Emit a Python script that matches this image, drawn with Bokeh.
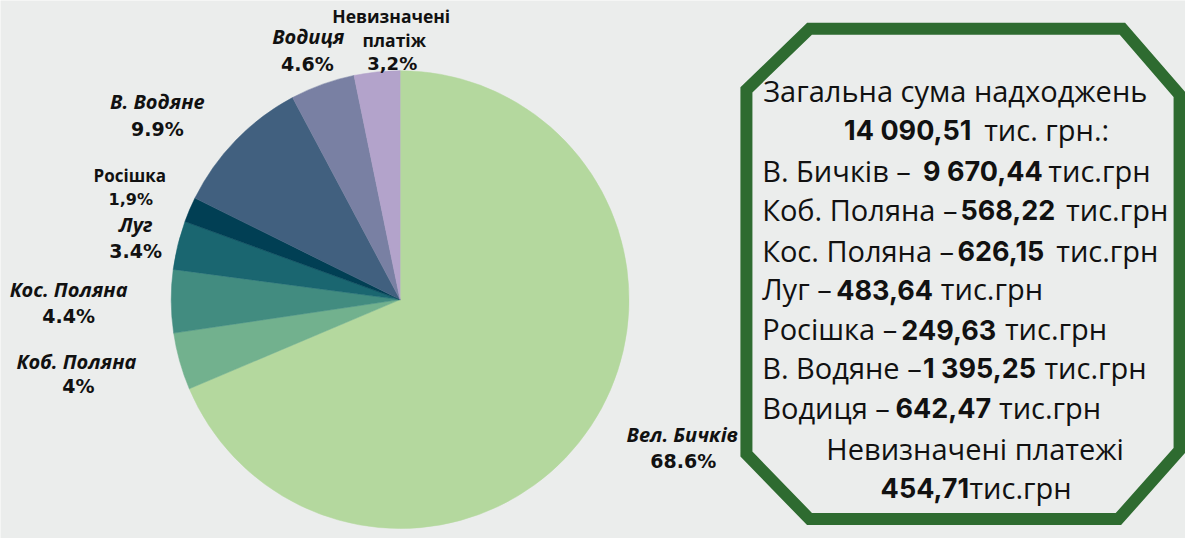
import math
from bokeh.plotting import figure
from bokeh.models import Range1d, ColumnDataSource
from bokeh.core.properties import value
from bokeh.embed import file_html
from bokeh.resources import INLINE

# ---------------- data ----------------
categories = ["Вел. Бичків", "Коб. Поляна", "Кос. Поляна", "Луг", "Росішка",
              "В. Водяне", "Водиця", "Невизначені платіж"]
values = [9670.44, 568.22, 626.15, 483.64, 249.63, 1395.25, 642.47, 454.71]
pct_labels = ["68.6%", "4%", "4.4%", "3.4%", "1,9%", "9.9%", "4.6%", "3,2%"]
colors = ["#b4d89e", "#72b18e", "#428c80", "#1a6670", "#013f54",
          "#41607f", "#7980a3", "#b3a3cb"]

total_text = "14 090,51"
box_names = ["В. Бичків –", "Коб. Поляна –", "Кос. Поляна –", "Луг –",
             "Росішка –", "В. Водяне –", "Водиця –"]
box_values = ["9 670,44", "568,22", "626,15", "483,64", "249,63", "1 395,25", "642,47"]
undefined_title = "Невизначені платежі"
undefined_value = "454,71"

# ---------------- layout helpers ----------------
W, H = 1185, 538
RW, RH = 1201, 554
BG = "#ebedec"
def Y(y):  # reference pixel row -> data y
    return RH - y

p = figure(width=W, height=H, output_backend="svg", toolbar_location=None,
           x_range=Range1d(0, RW), y_range=Range1d(0, RH),
           x_axis_location=None, y_axis_location=None, min_border=0)
p.grid.visible = False
p.outline_line_color = None
p.background_fill_color = BG
p.border_fill_color = BG

# ---------------- pie (clockwise from top) ----------------
tot = sum(values)
cum = 0.0
starts, ends = [], []
for v in values:
    a0 = math.pi / 2 - 2 * math.pi * (cum + v) / tot
    a1 = math.pi / 2 - 2 * math.pi * cum / tot
    starts.append(a0)
    ends.append(a1)
    cum += v
src = ColumnDataSource(dict(cat=categories, val=values, start=starts, end=ends, color=colors))
p.wedge(x=405, y=Y(308), radius=232, start_angle="start", end_angle="end",
        direction="anticlock", fill_color="color", line_color="color", line_width=0.5,
        source=src)

# ---------------- pie labels ----------------
TC = "#111111"
LF = value("Open Sans")
PF = value("DejaVu Sans")
# name_x, name_y, italic, size, pct_x, pct_y
lab = {
    "Вел. Бичків": (691, 447, True, 20, 692, 474),
    "Коб. Поляна": (77, 372, True, 20, 79, 397),
    "Кос. Поляна": (69, 298, True, 20, 69, 325),
    "Луг": (137, 231, True, 20, 137, 258),
    "Росішка": (131, 180, False, 17, 132, 205),
    "В. Водяне": (159, 104, True, 20, 159, 132),
    "Водиця": (312, 37, True, 20, 311, 65),
}
for cat, pct in zip(categories, pct_labels):
    if cat == "Невизначені платіж":
        p.text(x=[396, 399], y=[Y(16), Y(41)], text=["Невизначені", "платіж"],
               text_font=LF, text_font_size="17.5px", text_font_style="bold",
               text_align="center", text_baseline="middle", text_color=TC)
        p.text(x=[397], y=[Y(65)], text=[pct], text_font=PF,
               text_font_size="18px", text_font_style="bold", text_align="center",
               text_baseline="middle", text_color=TC)
        continue
    nx, ny, it, sz, px, py = lab[cat]
    p.text(x=[nx], y=[Y(ny)], text=[cat], text_font=LF,
           text_font_size=f"{sz}px", text_font_style="bold italic" if it else "bold",
           text_align="center", text_baseline="middle", text_color=TC)
    sz2 = 16 if cat == "Росішка" else 19
    p.text(x=[px], y=[Y(py)], text=[pct], text_font=PF,
           text_font_size=f"{sz2}px", text_font_style="bold", text_align="center",
           text_baseline="middle", text_color=TC)

# ---------------- octagon frame ----------------
ox = [820, 1137, 1195, 1195, 1133, 820, 756, 756]
oy = [29, 29, 97, 463, 534, 534, 467, 92]
p.patch(x=ox, y=[Y(v) for v in oy], fill_alpha=0, line_color="#2e6b30",
        line_width=12, line_join="miter")

# ---------------- box text ----------------
RF = value("Open Sans")
BF = value("Inter")
def txt(x, y, s, bold=False, align="left"):
    p.text(x=[x], y=[Y(y)], text=[s], text_font=BF if bold else RF,
           text_font_size="27px" if bold else "29px",
           text_font_style="bold" if bold else "normal", text_align=align,
           text_baseline="middle", text_color=TC)

txt(773, 93, "Загальна сума надходжень")
txt(855, 134, total_text, bold=True)
txt(997, 133, "тис. грн.:")

rows_y = [175, 215, 257, 297, 338, 378, 419]
num_x = [935, 973, 970, 847, 913, 935, 907]
unit_x = [1062, 1080, 1070, 953, 1018, 1058, 1012]
for nm, vv, yy, nx, ux in zip(box_names, box_values, rows_y, num_x, unit_x):
    txt(772, yy, nm)
    txt(nx, yy + 1, vv, bold=True)
    txt(ux, yy, "тис.грн")

txt(837, 461, undefined_title)
txt(892, 502, undefined_value, bold=True)
txt(982, 501, "тис.грн")

html = file_html(p, INLINE)
html = html.replace("<body>", f'<body style="background:{BG}">', 1)
open("out.html", "w").write(html)
